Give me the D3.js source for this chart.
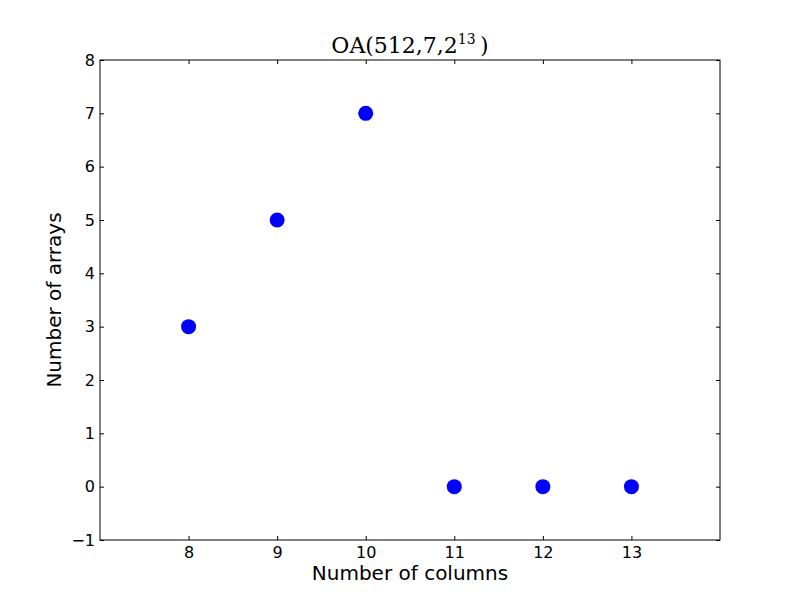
<!DOCTYPE html>
<html><head><meta charset="utf-8">
<script src="https://cdn.jsdelivr.net/npm/d3@7"></script>
<style>body{margin:0;background:#fff}svg{display:block}</style>
</head><body>
<script>
const columns = [8, 9, 10, 11, 12, 13];
const arrays = [3, 5, 7, 0, 0, 0];
const xTicks = [8, 9, 10, 11, 12, 13];
const yTicks = [-1, 0, 1, 2, 3, 4, 5, 6, 7, 8];

const W = 800, H = 600;
const m = {left: 100, right: 80, top: 60, bottom: 60};
const svg = d3.select("body").append("svg").attr("width", W).attr("height", H);
const x = d3.scaleLinear().domain([7, 14]).range([m.left, W - m.right]);
const y = d3.scaleLinear().domain([-1, 8]).range([H - m.bottom, m.top]);

const font = "DejaVu Sans";
function styleAxis(g) {
  g.attr("font-size", null).attr("font-family", null);
  g.select(".domain").remove();
  g.selectAll(".tick line").attr("stroke", "#000").attr("stroke-width", 1);
  g.selectAll(".tick text").attr("font-family", font).attr("font-size", 16).attr("fill", "#000");
}
const fmt = d => d < 0 ? "\u2212" + Math.abs(d) : String(d);

svg.append("g").attr("transform", `translate(0,${H - m.bottom})`)
  .call(d3.axisBottom(x).tickValues(xTicks).tickSizeInner(-4).tickSizeOuter(0).tickPadding(7).tickFormat(fmt)).call(styleAxis);
svg.append("g").attr("transform", `translate(0,${m.top})`)
  .call(d3.axisTop(x).tickValues(xTicks).tickSizeInner(-4).tickSizeOuter(0).tickFormat("")).call(styleAxis);
svg.append("g").attr("transform", `translate(${m.left},0)`)
  .call(d3.axisLeft(y).tickValues(yTicks).tickSizeInner(-4).tickSizeOuter(0).tickPadding(5).tickFormat(fmt)).call(styleAxis);
svg.append("g").attr("transform", `translate(${W - m.right},0)`)
  .call(d3.axisRight(y).tickValues(yTicks).tickSizeInner(-4).tickSizeOuter(0).tickFormat("")).call(styleAxis);

svg.append("rect").attr("x", m.left).attr("y", m.top)
  .attr("width", W - m.left - m.right).attr("height", H - m.top - m.bottom)
  .attr("fill", "none").attr("stroke", "#000").attr("stroke-width", 1);

svg.append("g").selectAll("circle").data(columns.map((c, i) => [c, arrays[i]])).join("circle")
  .attr("cx", d => x(d[0])).attr("cy", d => y(d[1])).attr("r", 7.5).attr("fill", "#0000ff");

svg.append("text").attr("x", (m.left + W - m.right) / 2).attr("y", 580)
  .attr("text-anchor", "middle").attr("font-family", font).attr("font-size", 20).text("Number of columns");
svg.append("text").attr("transform", `translate(61,${(m.top + H - m.bottom) / 2}) rotate(-90)`)
  .attr("text-anchor", "middle").attr("font-family", font).attr("font-size", 20).text("Number of arrays");

const t = svg.append("text").attr("x", 410).attr("y", 53).attr("text-anchor", "middle")
  .attr("font-family", "DejaVu Serif").attr("font-size", 22);
t.append("tspan").text("OA(512,7,2");
t.append("tspan").attr("font-size", 14).attr("dy", -9).text("13");
t.append("tspan").attr("dy", 9).text("\u2009)");
</script>
</body></html>
